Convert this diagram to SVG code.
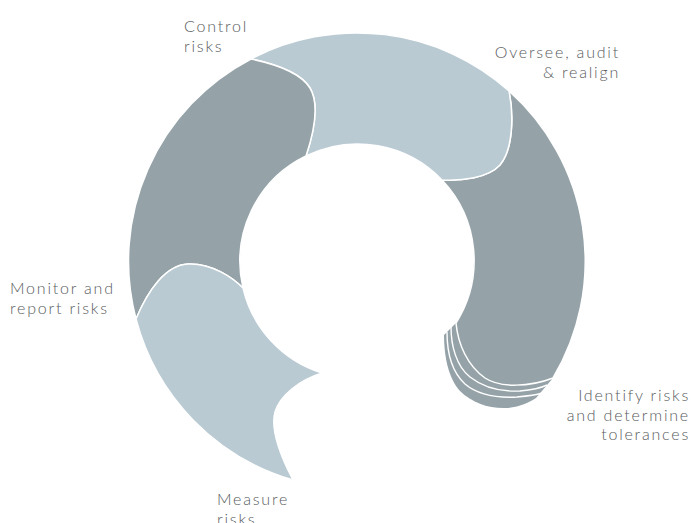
<svg xmlns="http://www.w3.org/2000/svg" width="691" height="523" viewBox="0 0 691 523">
  <style>
    .light { fill: #b9cad3; stroke: #ffffff; stroke-width: 1.5; stroke-linejoin: round; }
    .dark { fill: #95a3a9; stroke: #ffffff; stroke-width: 1.5; stroke-linejoin: round; }
    .back { fill: #95a3a9; stroke: none; }
    .sep { fill: none; stroke: #ffffff; stroke-width: 1.4; }
    .lbl { font-family: Lato, "Open Sans", sans-serif; font-weight: 300; font-size: 16px; letter-spacing: 1.8px; fill: #585b5d; }
  </style>
  <rect width="691" height="523" fill="#ffffff"/>
  <g id="stack">
    <path class="back" d="M456,323 L444,335 C444,355 448,378 460,391 C472,403 490,409 507,408 C520,407 530,402 536,398 L553,378 Z"/>
    <path class="sep" d="M451,327 C451,345 456,366 470,377 C484,388 500,392 520,391 C532,390 541,388 547,385"/>
    <path class="sep" d="M447,332 C447,352 452,372 465,384 C478,395 498,398 517,397 C528,396 536,395 542,393"/>
  </g>
  <g id="identify">
    <path class="dark" d="M509,91 A228,228 0 0 1 553,378 C530,387 500,388 485,378 C468,366 458,345 456,323 A117,117 0 0 0 442,180 C462,181 488,178 500,165 C513,150 514,115 509,91 Z"/>
  </g>
  <g id="oversee">
    <path class="light" d="M251,59 A228,228 0 0 1 509,91 C514,115 513,150 500,165 C488,178 462,181 442,180 A117,117 0 0 0 306,156 C313,135 320,105 310,88 C300,72 275,64 251,59 Z"/>
  </g>
  <g id="control">
    <path class="dark" d="M251,59 A228,228 0 0 0 136,319 C148,290 166,265 188,264 C212,263 233,278 243,288 A117,117 0 0 1 306,156 C313,135 320,105 310,88 C300,72 275,64 251,59 Z"/>
  </g>
  <g id="measure">
    <path class="light" d="M136,319 A228,228 0 0 0 293,480 C280,455 270,430 275,412 C280,395 300,380 322,373 A117,117 0 0 1 243,288 C233,278 212,263 188,264 C166,265 148,290 136,319 Z"/>
  </g>
  <g id="connectors"></g>
  <g id="labels">
    <text class="lbl" x="184" y="32">Control</text>
    <text class="lbl" x="184" y="52">risks</text>
    <text class="lbl" x="620" y="57.5" text-anchor="end">Oversee, audit</text>
    <text class="lbl" x="620" y="77.5" text-anchor="end">&amp; realign</text>
    <text class="lbl" x="10" y="293.5">Monitor and</text>
    <text class="lbl" x="10" y="313.5">report risks</text>
    <text class="lbl" x="690" y="401" text-anchor="end">Identify risks</text>
    <text class="lbl" x="690" y="420.5" text-anchor="end">and determine</text>
    <text class="lbl" x="690" y="440" text-anchor="end">tolerances</text>
    <text class="lbl" x="217" y="505">Measure</text>
    <text class="lbl" x="217" y="524.5">risks</text>
  </g>
</svg>
